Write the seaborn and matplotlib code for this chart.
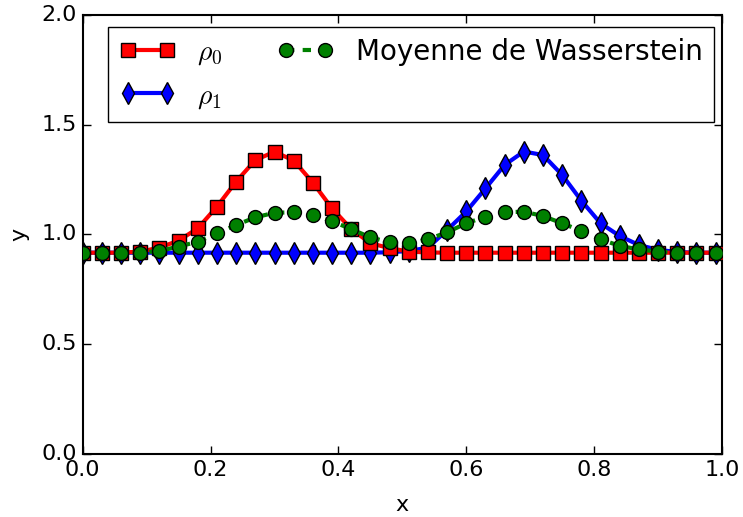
import numpy as np
import pandas as pd
import matplotlib
matplotlib.use("Agg")
import matplotlib.pyplot as plt
import seaborn as sns

# sample positions (step 0.03)
x_vals = [0.00, 0.03, 0.06, 0.09, 0.12, 0.15, 0.18, 0.21, 0.24, 0.27,
          0.30, 0.33, 0.36, 0.39, 0.42, 0.45, 0.48, 0.51, 0.54, 0.57,
          0.60, 0.63, 0.66, 0.69, 0.72, 0.75, 0.78, 0.81, 0.84, 0.87,
          0.90, 0.93, 0.96, 0.99]

# values
rho0 = [0.917, 0.917, 0.917, 0.922, 0.940, 0.972, 1.028, 1.127, 1.241, 1.339,
        1.377, 1.337, 1.236, 1.119, 1.025, 0.960, 0.938, 0.922, 0.918, 0.917,
        0.917, 0.917, 0.917, 0.917, 0.917, 0.917, 0.917, 0.917, 0.917, 0.917,
        0.917, 0.917, 0.917, 0.917]
rho1 = [0.917, 0.917, 0.917, 0.917, 0.917, 0.917, 0.917, 0.917, 0.917, 0.917,
        0.917, 0.917, 0.917, 0.917, 0.917, 0.917, 0.919, 0.925, 0.940, 1.020,
        1.105, 1.210, 1.317, 1.378, 1.362, 1.271, 1.154, 1.051, 0.993, 0.952,
        0.930, 0.920, 0.917, 0.917]
wass_mean = [0.917, 0.917, 0.917, 0.917, 0.925, 0.945, 0.967, 1.005, 1.043, 1.078,
             1.099, 1.101, 1.089, 1.061, 1.024, 0.987, 0.964, 0.960, 0.978, 1.010,
             1.051, 1.081, 1.101, 1.104, 1.084, 1.051, 1.016, 0.978, 0.948, 0.932,
             0.922, 0.917, 0.917, 0.917]

x_ticks = [0.0, 0.2, 0.4, 0.6, 0.8, 1.0]
y_ticks = [0.0, 0.5, 1.0, 1.5, 2.0]

plt.style.use("classic")
plt.rcParams["mathtext.fontset"] = "cm"
plt.rcParams["axes.linewidth"] = 1.5

df = pd.DataFrame({"x": x_vals, "rho0": rho0, "rho1": rho1, "wass": wass_mean})

fig = plt.figure(figsize=(7.43, 5.17), dpi=100, facecolor="white")
ax = fig.add_axes([0.1113, 0.1219, 0.8605, 0.8491])

sns.lineplot(data=df, x="x", y="rho0", ax=ax, color="red", lw=3,
             marker="s", markersize=10, mec="k", mew=1,
             label=r"$\rho_0$", zorder=3)
sns.lineplot(data=df, x="x", y="rho1", ax=ax, color="blue", lw=3,
             marker="d", markersize=11, mec="k", mew=1,
             label=r"$\rho_1$", zorder=2)
sns.lineplot(data=df, x="x", y="wass", ax=ax, color="green", lw=3,
             linestyle="--", marker="o", markersize=10, mec="k", mew=1,
             label="Moyenne de Wasserstein", zorder=4)

ax.set_xlim(0, 1)
ax.set_ylim(0, 2)
ax.set_xticks(x_ticks)
ax.set_yticks(y_ticks)
ax.set_xticklabels([f"{t:.1f}" for t in x_ticks])
ax.set_yticklabels([f"{t:.1f}" for t in y_ticks])
ax.tick_params(labelsize=16, direction="in", length=6, width=1,
               top=True, right=True)
ax.set_xlabel("x", fontsize=16, labelpad=11)
ax.set_ylabel("y", fontsize=16, labelpad=9)

ax.legend(loc="upper left", bbox_to_anchor=(0.04, 0.973), borderaxespad=0,
          ncol=2, fontsize=20, numpoints=2, fancybox=False, frameon=True)

fig.savefig("out.png", dpi=100, facecolor="white")
